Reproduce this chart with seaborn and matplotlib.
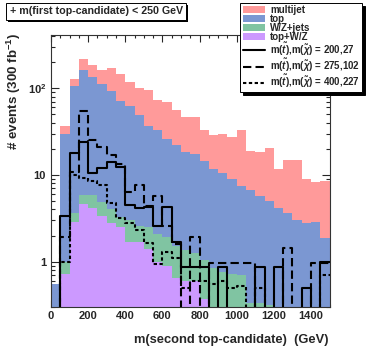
import numpy as np
import pandas as pd
import matplotlib
matplotlib.use("Agg")
import matplotlib.pyplot as plt
import matplotlib.patheffects as pe
from matplotlib.patches import Patch
from matplotlib.lines import Line2D
from matplotlib.ticker import MultipleLocator, FixedLocator, FixedFormatter, LogLocator, NullFormatter
import seaborn as sns

# 50 GeV bins from 0 to 1500
edges = list(range(0, 1501, 50))
centers = [e + 25 for e in edges[:-1]]

samples = ["multijet", "top", "W/Z+jets", "top+W/Z"]
colors = ["#ff9a9a", "#7b97d2", "#80c4a2", "#cc99ff"]

# stacked backgrounds (events per bin, each sample on its own)
multijet = [0, 7, 24, 59, 52, 51, 76, 74, 56, 53, 58, 40, 43, 34, 28.6, 29.4, 18.5, 17.2, 19.5, 18,
            25.5, 12.3, 12.8, 15.5, 7.5, 11.2, 11.8, 6.2, 5.4, 6.65]
top = [0.55, 29, 101, 155, 129, 108, 89, 68, 59, 46, 34.5, 31, 24, 20.5, 17, 16.3, 13.4, 11, 9.75, 8.3,
       6.8, 6.4, 5.4, 4.7, 4.2, 3.6, 3.0, 2.8, 2.9, 1.85]
wz_jets = [0, 0.26, 0.75, 1.2, 1.7, 1.45, 1.2, 0.8, 1.3, 0.9, 1.1, 1.1, 1.0, 0.85, 0.75, 0.65, 0.68, 0.85,
           0.75, 0.72, 0.7, 0.33, 0.33, 0.32, 0, 0, 0, 0, 0, 0]
top_wz = [0, 0.72, 2.85, 4.6, 4.2, 3.4, 2.8, 2.5, 1.7, 1.7, 1.4, 1.0, 0.9, 0.65, 0.6, 0.6, 0.37, 0, 0, 0,
          0, 0, 0, 0, 0, 0, 0, 0, 0, 0]

# signal points (not stacked)
sig_labels = [r"m($\tilde{t}$),m($\tilde{\chi}$) = 200,27",
              r"m($\tilde{t}$),m($\tilde{\chi}$) = 275,102",
              r"m($\tilde{t}$),m($\tilde{\chi}$) = 400,227"]
sig_200 = [0, 3.4, 18, 24, 10.5, 12, 14, 12.5, 4.5, 4.2, 4.3, 2.6, 4.3, 1.7, 0.86, 0.86, 0.87, 0, 0.87, 0,
           0, 0, 0.87, 0, 0.87, 0, 0, 0.5, 0, 1.0]
sig_275 = [0, 1.9, 10.8, 54, 25, 21, 17, 13.5, 6.3, 7.7, 4.4, 5.7, 2.6, 1.6, 0, 1.9, 0, 0.96, 0.96, 0.96,
           0.96, 0.96, 0, 0, 0, 1.45, 0, 0, 0.96, 0.96]
sig_400 = [0, 1.0, 10, 9.3, 8.5, 7.6, 4.8, 3.2, 2.8, 2.3, 1.65, 0.95, 1.3, 1.1, 0.5, 0.6, 0.6, 0.55, 0.6, 0.5,
           0.53, 0, 0.5, 0, 0, 0, 0, 0, 0, 0.7]
sig_styles = ["-", (0, (4, 2)), (0, (1.6, 1.2))]

bkg = pd.concat([
    pd.DataFrame({"m": centers, "events": vals, "sample": name})
    for name, vals in zip(samples, [multijet, top, wz_jets, top_wz])
])

sns.set_style("ticks")
plt.rcParams["font.family"] = ["Liberation Sans", "DejaVu Sans"]
plt.rcParams["font.weight"] = "bold"
plt.rcParams["mathtext.fontset"] = "custom"
plt.rcParams["mathtext.rm"] = "Liberation Sans:bold"
plt.rcParams["mathtext.bf"] = "Liberation Sans:bold"
plt.rcParams["mathtext.it"] = "Liberation Sans:italic:bold"

fig = plt.figure(figsize=(3.66, 3.53), dpi=100)
ax = fig.add_axes([0.1393, 0.1303, 0.761, 0.7705])
ax.set_yscale("log")

sns.histplot(data=bkg, x="m", hue="sample", weights="events", bins=edges,
             hue_order=samples, palette=dict(zip(samples, colors)),
             multiple="stack", element="bars", alpha=1, linewidth=0,
             legend=False, ax=ax)

for vals, ls in zip([sig_200, sig_275, sig_400], sig_styles):
    sns.histplot(x=centers, weights=vals, bins=edges, element="step", fill=False,
                 color="black", linewidth=1.5, linestyle=ls, ax=ax)

ax.set_xlim(0, 1500)
ax.set_ylim(0.3, 410)
ax.set_xlabel("")
ax.set_ylabel("")

ax.xaxis.set_major_locator(MultipleLocator(200))
ax.xaxis.set_minor_locator(MultipleLocator(50))
ax.yaxis.set_major_locator(FixedLocator([1, 10, 100]))
ax.yaxis.set_major_formatter(FixedFormatter(["1", "10", r"$10^{2}$"]))
ax.yaxis.set_minor_locator(LogLocator(base=10, subs=np.arange(2, 10)))
ax.yaxis.set_minor_formatter(NullFormatter())
ax.tick_params(which="both", direction="in", top=True, right=True, labelsize=8, width=0.8)
ax.tick_params(axis="x", which="major", length=5, pad=3)
ax.tick_params(axis="x", which="minor", length=2.5)
ax.tick_params(axis="y", which="major", length=6)
ax.tick_params(axis="y", which="minor", length=3)
for s in ax.spines.values():
    s.set_linewidth(0.8)
    s.set_color("#333333")

fig.text(328 / 366, 1 - 340 / 353, "m(second top-candidate)  (GeV)", ha="right", va="center", fontsize=9.3)
fig.text(14 / 366, 1 - 33 / 353, r"# events (300 fb$^{-1}$)", ha="center", va="top", rotation=90,
         fontsize=9.6)

t = fig.text(0.026, 1 - 11.5 / 353, "+ m(first top-candidate) < 250 GeV", ha="left", va="center",
             fontsize=7.7, bbox=dict(boxstyle="square,pad=0.35", fc="white", ec="black", lw=0.7))
t.get_bbox_patch().set_path_effects([pe.SimplePatchShadow(offset=(1.5, -1.5), shadow_rgbFace="black", alpha=1),
                                     pe.Normal()])

handles = [Patch(facecolor=c, edgecolor="none") for c in colors]
handles += [Line2D([], [], color="black", lw=1.5, linestyle=ls) for ls in sig_styles]
leg = fig.legend(handles, samples + sig_labels, loc="upper right", bbox_to_anchor=(0.99, 0.992),
                 fontsize=7, frameon=True, fancybox=False, framealpha=1, edgecolor="black",
                 handlelength=2.3, handleheight=0.7, labelspacing=-0.12, borderpad=0.25,
                 handletextpad=0.5, borderaxespad=0, shadow={"color": "black", "alpha": 1})
leg.get_frame().set_linewidth(0.7)

fig.savefig("out.png", dpi=100)
